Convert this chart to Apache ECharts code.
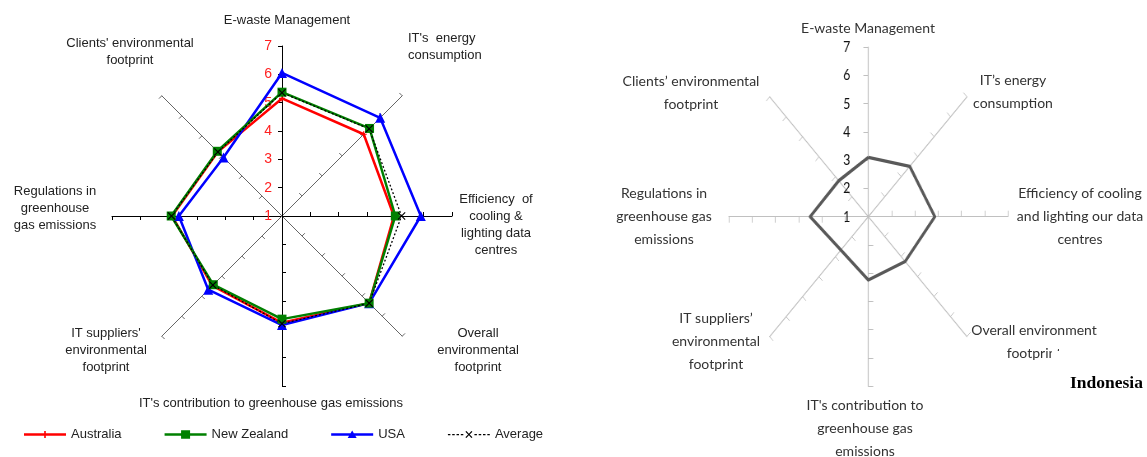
<!DOCTYPE html>
<html>
<head>
<meta charset="utf-8">
<script src="https://cdn.jsdelivr.net/npm/echarts@6/dist/echarts.min.js"></script>
<style>
html, body { margin: 0; padding: 0; background: #fff; }
#wrap { position: relative; width: 1147px; height: 457px; overflow: hidden; background: #fff; }
#right { position: absolute; left: 560px; top: 0; width: 713px; height: 457px; transform: scaleX(0.823); transform-origin: 0 0; z-index: 1; }
#main { position: absolute; left: 0; top: 0; width: 1147px; height: 457px; z-index: 2; }
</style>
</head>
<body>
<div id="wrap"><div id="right"></div><div id="main"></div></div>
<script>
// ---------------- data ----------------
const leftCategories = [
  "E-waste Management",
  "IT's  energy\nconsumption",
  "Efficiency  of\ncooling &\nlighting data\ncentres",
  "Overall\nenvironmental\nfootprint",
  "IT's contribution to greenhouse gas emissions",
  "IT suppliers'\nenvironmental\nfootprint",
  "Regulations in\ngreenhouse\ngas emissions",
  "Clients' environmental\nfootprint"
];
const rightCategories = [
  "E-waste Management",
  "IT\u2019s energy\nconsumption",
  "Efficiency of cooling\nand lighting our data\ncentres",
  "Overall environment\nfootprint",
  "IT's contribution to\ngreenhouse gas\nemissions",
  "IT suppliers\u2019\nenvironmental\nfootprint",
  "Regulations in\ngreenhouse gas\nemissions",
  "Clients\u2019 environmental\nfootprint"
];
const seriesNames = ["Australia", "New Zealand", "USA", "Average"];
const australia  = [5.15, 5.08, 4.95, 5.35, 4.77, 4.48, 4.88, 4.20];
const newZealand = [5.37, 5.37, 5.00, 5.35, 4.64, 4.43, 4.91, 4.23];
const usa        = [6.05, 5.90, 5.90, 5.35, 4.85, 4.68, 4.64, 3.92];
const average    = [5.35, 5.35, 5.22, 5.35, 4.80, 4.45, 4.90, 4.20];
const indonesia  = [3.10, 3.52, 3.86, 3.24, 3.24, 2.67, 3.50, 2.80];
const tickLabels = ["1", "2", "3", "4", "5", "6", "7"];
const countryName = "Indonesia";

// ---------------- layout / style ----------------
const colors = ["#ff0000", "#008000", "#0000ff", "#000000"];
const leftLabelLayout = [[287,20,"center"],[408,38,"left"],[496,199,"center"],[478,333,"center"],[271,403,"center"],[106,333,"center"],[55,191,"center"],[130,43,"center"]];
const rightLabelLayout = [[868,28,"center"],[1013,80,"center"],[1080,193,"center"],[1034,330,"center"],[865,405,"center"],[716,318,"center"],[664,193,"center"],[691,81,"center"]];

// ECharts lays radar indicators out counter-clockwise; the reference runs clockwise
const ccw = a => [a[0]].concat(a.slice(1).reverse());

const plusPath = "path://M4,0H6V4H10V6H6V10H4V6H0V4H4Z";
const xPath = "path://M0,1L1,0L5,4L9,0L10,1L6,5L10,9L9,10L5,6L1,10L0,9L4,5Z";
const bb = "M0,0L0.01,0L0,0.01Z M42,10L41.99,10L42,9.99Z ";
const dashes = (xs) => xs.map(x => "M" + x + ",4.4h2.5v1.3h-2.5Z").join(" ");
const legendIcons = [
  "path://" + bb + "M0,3.8H42V6.2H0Z M20.2,1.5H21.8V8.5H20.2Z",
  "path://" + bb + "M0,3.8H42V6.2H0Z M16.5,0.8H25.5V9.2H16.5Z",
  "path://" + bb + "M0,3.8H42V6.2H0Z M21,1L25.5,8.6H16.5Z",
  "path://" + bb + dashes([0,4.3,8.6,12.9]) + " M17.5,2.2L18.5,1.4L21,4.2L23.5,1.4L24.5,2.2L21.8,5L24.5,7.8L23.5,8.6L21,5.8L18.5,8.6L17.5,7.8L20.2,5Z " + dashes([26.5,30.8,35.1,39.4])
];
const symbols = [plusPath, "rect", "triangle", xPath];
const symbolSizes = [6, 9, 10, 8];

const main = echarts.init(document.getElementById("main"), null, {renderer: "canvas"});
const right = echarts.init(document.getElementById("right"), null, {renderer: "canvas"});

const leftData = seriesNames.map((n, i) => ({
  name: n,
  value: ccw([australia, newZealand, usa, average][i]),
  symbol: symbols[i],
  symbolSize: symbolSizes[i],
  lineStyle: i === 3 ? {color: "#000", width: 1.3, type: [2, 2]} : {color: colors[i], width: 2.5},
  itemStyle: {color: colors[i], borderWidth: 0}
}));
// draw order: Australia, USA, New Zealand, Average
const drawOrder = [0, 2, 1, 3].map(i => leftData[i]);

const textEls = [];
leftCategories.forEach((t, i) => {
  const p = leftLabelLayout[i];
  const lh = 17.3;
  textEls.push({type: "text", x: p[0], y: p[1] - lh / 2, silent: true,
    style: {text: t, fill: "#222", fontSize: 13, fontFamily: "Liberation Sans, Arial, sans-serif", align: p[2], verticalAlign: "top", lineHeight: lh}});
});
rightCategories.forEach((t, i) => {
  const p = rightLabelLayout[i];
  const lh = 23;
  textEls.push({type: "text", x: p[0], y: p[1] - lh / 2, silent: true,
    style: {text: t, fill: "#333", fontSize: 14, fontFamily: "Lato, sans-serif", align: p[2], verticalAlign: "top", lineHeight: lh}});
});
textEls.push({type: "rect", shape: {x: 1052, y: 351, width: 95, height: 22}, style: {fill: "#fff"}, silent: true});
textEls.push({type: "text", x: 1070, y: 383, silent: true,
  style: {text: countryName, fill: "#000", fontSize: 17.5, fontWeight: "bold", fontFamily: "Liberation Serif, Times New Roman, serif", align: "left", verticalAlign: "middle"}});

main.setOption({
  animation: false,
  backgroundColor: "transparent",
  legend: {
    left: 19, top: 423, itemWidth: 42, itemHeight: 10, itemGap: 43, selectedMode: false,
    textStyle: {fontSize: 13, color: "#222", fontFamily: "Liberation Sans, Arial, sans-serif"},
    data: seriesNames.map((n, i) => ({name: n, icon: legendIcons[i], itemStyle: {color: colors[i], borderWidth: 0}}))
  },
  radar: {
    center: [282, 216], radius: 170, startAngle: 90, splitNumber: 6, shape: "polygon",
    axisName: {show: false},
    splitLine: {show: false}, splitArea: {show: false},
    axisLine: {lineStyle: {color: "#555", width: 1}},
    axisTick: {show: true, length: 4},
    indicator: ccw(leftCategories).map((n, i) => {
      const o = {name: n, min: 1, max: 7, axisLine: {lineStyle: {color: (i % 2 === 0) ? "#000" : "#666"}}};
      if (i === 0) o.axisLabel = {show: true, color: "#ff2020", fontSize: 14, fontFamily: "Liberation Sans, Arial, sans-serif", margin: 10, formatter: v => tickLabels[Math.round(v) - 1]};
      return o;
    })
  },
  series: [{type: "radar", radarIndex: 0, data: drawOrder, z: 3}],
  graphic: textEls
});

right.setOption({
  animation: false,
  backgroundColor: "transparent",
  radar: {
    center: [374.6, 216.7], radius: 169.5, startAngle: 90, splitNumber: 6, shape: "polygon",
    axisName: {show: false},
    splitLine: {show: false}, splitArea: {show: false},
    axisLine: {lineStyle: {color: "#c0c0c0", width: 1.2}},
    axisTick: {show: true, length: 6, lineStyle: {color: "#c0c0c0"}},
    indicator: ccw(rightCategories).map((n, i) => {
      const o = {name: n, min: 1, max: 7};
      if (i === 0) o.axisLabel = {show: true, color: "#111", fontSize: 15, fontFamily: "Lato, sans-serif", margin: 22, formatter: v => tickLabels[Math.round(v) - 1]};
      return o;
    })
  },
  series: [{type: "radar", data: [{name: countryName, value: ccw(indonesia), symbol: "none", lineStyle: {color: "#595959", width: 3.3}}]}]
});
</script>
</body>
</html>
